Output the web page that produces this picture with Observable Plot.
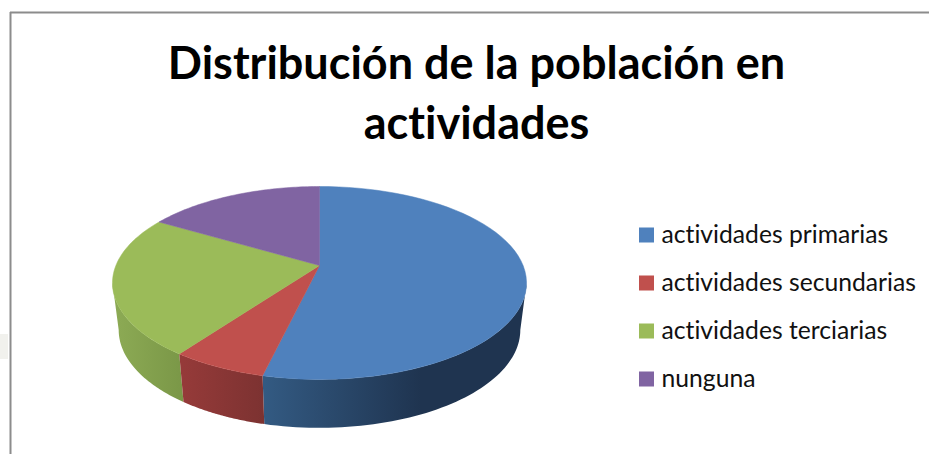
<!DOCTYPE html>
<html lang="es">
<head>
<meta charset="utf-8">
<script src="https://cdn.jsdelivr.net/npm/d3@7"></script>
<script src="https://cdn.jsdelivr.net/npm/@observablehq/plot@0.6"></script>
<style>
html,body{margin:0;padding:0;background:#fff;overflow:hidden}
svg{display:block}
svg text{font-variant-ligatures:none;font-feature-settings:"liga" 0}
</style>
</head>
<body>
<div id="chart"></div>
<script>
const titleLines = ["Distribución de la población en", "actividades"];
const categories = ["actividades primarias", "actividades secundarias", "actividades terciarias", "nunguna"];
const shares = [53.7, 6.3, 23.5, 16.5];
const topColors = ["#4f81bd", "#c0504d", "#9bbb59", "#8064a2"];
const wallStops = [
  [[264, "#335a82"], [420, "#1f3450"]],
  [[183, "#953a39"], [264, "#7c3231"]],
  [[112, "#8dab55"], [183, "#7a9747"]],
  [[160, "#5d4878"], [319, "#4c3b63"]]
];

// Perspective of the tilted disc
const cx = 319, cy = 265, a = 203.6, b = 93.3, k = 0.181;
const project = (theta) => {
  const u = Math.sin(theta), v = -Math.cos(theta), w = 1 - k * v;
  return [cx + a * u / w, cy + b * v / w];
};
const lower = ([x, y]) => [cx + (x - cx) * 0.97, 330 + (y - 283) * 1.015];

const arcs = d3.pie().sort(null)(shares);
const arcPoints = (t0, t1) => d3.range(0, 61).map(i => project(t0 + (t1 - t0) * i / 60));
const faces = arcs.map(s => [[cx, cy], ...arcPoints(s.startAngle, s.endAngle), [cx, cy]]);

// The side wall only shows between the two rim points of widest x
const frontStart = Math.acos(-k), frontEnd = 2 * Math.PI - frontStart;
const walls = arcs.map(s => {
  const t0 = Math.max(s.startAngle, frontStart), t1 = Math.min(s.endAngle, frontEnd);
  if (t1 <= t0) return [];
  const r = arcPoints(t0, t1);
  return [...r, ...r.slice().reverse().map(lower), r[0]];
});

const defs = () => {
  const d = d3.create("svg:defs");
  wallStops.forEach((st, i) => {
    const g = d.append("linearGradient").attr("id", "wall" + i)
      .attr("gradientUnits", "userSpaceOnUse")
      .attr("x1", st[0][0]).attr("x2", st[1][0]).attr("y1", 0).attr("y2", 0);
    g.append("stop").attr("offset", 0).attr("stop-color", st[0][1]);
    g.append("stop").attr("offset", 1).attr("stop-color", st[1][1]);
  });
  return d.node();
};

const order = [0, 2, 1];
const rowY = (i) => 235 + i * 48;

const chart = Plot.plot({
  width: 929, height: 454,
  margin: 0,
  x: {domain: [0, 929], range: [0, 929], axis: null},
  y: {domain: [0, 454], range: [0, 454], axis: null},
  style: {background: "#fff", fontFamily: "Lato, Carlito, sans-serif"},
  marks: [
    defs,
    Plot.rect([0], {x1: 0, x2: 8, y1: 334, y2: 359, fill: "#f1f1ed"}),
    Plot.ruleX([10], {y1: 12, y2: 454, stroke: "#8c8c8c", strokeWidth: 2}),
    Plot.ruleY([12], {x1: 10, x2: 929, stroke: "#8c8c8c", strokeWidth: 2}),
    ...order.map(i => Plot.line(walls[i], {
      x: d => d[0], y: d => d[1], curve: "linear",
      fill: `url(#wall${i})`, stroke: "none"
    })),
    ...faces.map((f, i) => Plot.line(f, {
      x: d => d[0], y: d => d[1], curve: "linear",
      fill: topColors[i], stroke: topColors[i], strokeWidth: 0.5
    })),
    Plot.text(titleLines, {
      x: 476, y: (d, i) => 64 + i * 60,
      text: d => d, fontSize: 45, fontWeight: "bold", fill: "#000", textAnchor: "middle"
    }),
    Plot.rect(categories, {
      x1: 639, x2: 654,
      y1: (d, i) => rowY(i) - 7.5, y2: (d, i) => rowY(i) + 7.5,
      fill: (d, i) => topColors[i]
    }),
    Plot.text(categories, {
      x: 661, y: (d, i) => rowY(i),
      text: d => d, fontSize: 24.7, fill: "#111", textAnchor: "start"
    })
  ]
});
document.getElementById("chart").append(chart);
</script>
</body>
</html>
